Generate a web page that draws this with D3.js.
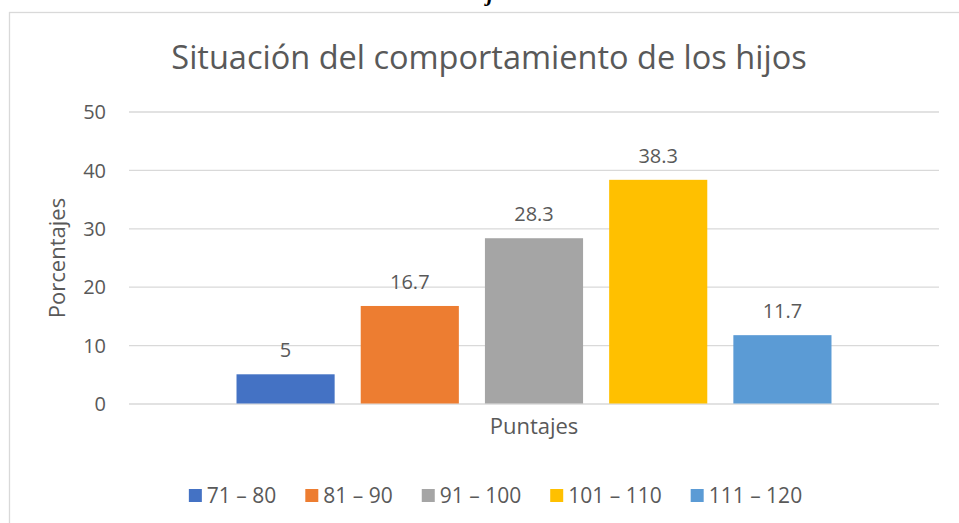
<!DOCTYPE html>
<html><head><meta charset="utf-8">
<script src="https://cdn.jsdelivr.net/npm/d3@7/dist/d3.min.js"></script>
<style>
html,body{margin:0;padding:0;background:#fff;overflow:hidden}
svg{display:block}
text{font-family:"Open Sans",sans-serif;fill:#595959}
</style></head>
<body>
<script>
const series = ["71 – 80", "81 – 90", "91 – 100", "101 – 110", "111 – 120"];
const values = [5, 16.7, 28.3, 38.3, 11.7];
const colors = ["#4472C4", "#ED7D31", "#A5A5A5", "#FFC000", "#5B9BD5"];
const yTicks = [0, 10, 20, 30, 40, 50];
const title = "Situación del comportamiento de los hijos";
const xTitle = "Puntajes";
const yTitle = "Porcentajes";

const W = 959, H = 523;
const svg = d3.select("body").append("svg").attr("width", W).attr("height", H);

// cut-off caption fragment at very top
svg.append("text").attr("x", 490).attr("y", 1).attr("text-anchor", "middle")
  .style("font-family", "Liberation Serif").style("font-style", "italic").style("font-weight", "bold")
  .style("font-size", "22px").style("fill", "#000").text("j");

// chart border
svg.append("rect").attr("x", 9.5).attr("y", 12.5).attr("width", 1000).attr("height", 600)
  .attr("fill", "none").attr("stroke", "#d9d9d9").attr("stroke-width", 1.3);

const plot = {left: 129, right: 939, top: 111.5, bottom: 403.5};
const y = d3.scaleLinear().domain([0, 50]).range([plot.bottom, plot.top]);
const x0 = d3.scaleBand().domain([xTitle]).range([plot.left, plot.right]).paddingInner(0).paddingOuter(0.1807);
const x1 = d3.scaleBand().domain(series).range([x0(xTitle), x0(xTitle) + x0.bandwidth()]).paddingInner(0.21).paddingOuter(0);

// gridlines via axis
const yAxis = d3.axisLeft(y).tickValues(yTicks).tickSize(-(plot.right - plot.left)).tickPadding(23);
const gy = svg.append("g").attr("transform", `translate(${plot.left},0)`).call(yAxis);
gy.select(".domain").remove();
gy.selectAll(".tick line").attr("stroke", "#d9d9d9").attr("stroke-width", 1.3);
gy.selectAll(".tick text").style("font-size", "20px").style("fill", "#595959")
  .style("font-family", "'Open Sans',sans-serif").attr("dy", "0.36em");

// bars
svg.append("g").selectAll("rect").data(series).join("rect")
  .attr("x", d => x1(d)).attr("width", x1.bandwidth())
  .attr("y", (d, i) => y(values[i])).attr("height", (d, i) => y(0) - y(values[i]))
  .attr("fill", (d, i) => colors[i]);

// data labels
svg.append("g").selectAll("text").data(series).join("text")
  .attr("x", d => x1(d) + x1.bandwidth() / 2).attr("y", (d, i) => y(values[i]) - 17)
  .attr("text-anchor", "middle").style("font-size", "20px").text((d, i) => values[i]);

// titles
svg.append("text").attr("x", 489).attr("y", 69).attr("text-anchor", "middle")
  .style("font-size", "32.5px").text(title);
svg.append("text").attr("x", (plot.left + plot.right) / 2).attr("y", 434).attr("text-anchor", "middle")
  .style("font-size", "22px").text(xTitle);
svg.append("text").attr("transform", "translate(65,258) rotate(-90)").attr("text-anchor", "middle")
  .style("font-size", "22px").text(yTitle);

// legend
const lg = svg.append("g");
const items = lg.selectAll("g").data(series).join("g");
items.append("rect").attr("width", 13).attr("height", 13).attr("y", -14).attr("fill", (d, i) => colors[i]);
items.append("text").attr("x", 18).attr("y", 0).style("font-size", "21px").text(d => d);
let xpos = 0;
items.each(function () {
  d3.select(this).attr("transform", `translate(${xpos},0)`);
  xpos += 18 + d3.select(this).select("text").node().getComputedTextLength() + 29;
});
const total = xpos - 29;
lg.attr("transform", `translate(${495.5 - total / 2},503)`);
</script>
</body></html>
